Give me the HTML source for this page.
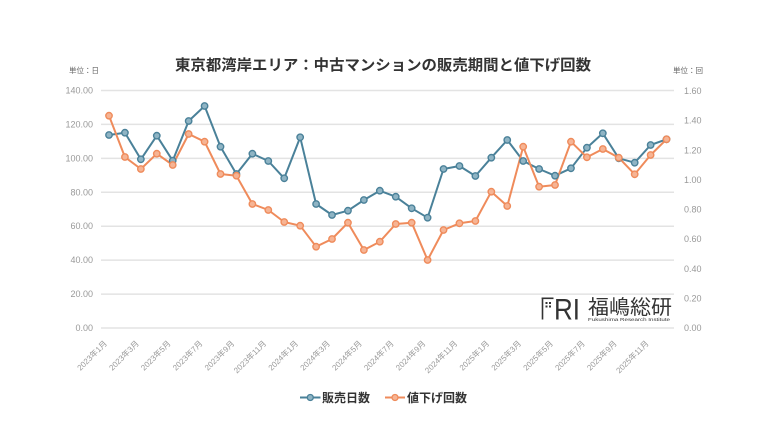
<!DOCTYPE html>
<html><head><meta charset="utf-8"><style>
html,body{margin:0;padding:0;background:#fff;}
svg{display:block;}
text{font-family:"Liberation Sans","Noto Sans CJK JP",sans-serif;}
</style></head><body>
<svg width="780" height="438" viewBox="0 0 780 438" xmlns="http://www.w3.org/2000/svg">
<rect width="780" height="438" fill="#fff"/>
<text x="383" y="70" text-anchor="middle" font-size="15" font-weight="bold" fill="#333" textLength="416" lengthAdjust="spacingAndGlyphs">東京都湾岸エリア：中古マンションの販売期間と値下げ回数</text>
<text x="69" y="73" font-size="7.5" fill="#666">単位：日</text>
<text x="673" y="73" font-size="7.5" fill="#666">単位：回</text>
<g stroke="#e3e3e3" stroke-width="1.5">
<line x1="101" x2="674" y1="328" y2="328"/>
<line x1="101" x2="674" y1="294.1" y2="294.1"/>
<line x1="101" x2="674" y1="260.1" y2="260.1"/>
<line x1="101" x2="674" y1="226.2" y2="226.2"/>
<line x1="101" x2="674" y1="192.3" y2="192.3"/>
<line x1="101" x2="674" y1="158.4" y2="158.4"/>
<line x1="101" x2="674" y1="124.4" y2="124.4"/>
<line x1="101" x2="674" y1="90.5" y2="90.5"/>
</g>
<g font-size="9" fill="#999" text-anchor="end">
<text x="93" y="331">0.00</text>
<text x="93" y="297.1">20.00</text>
<text x="93" y="263.1">40.00</text>
<text x="93" y="229.2">60.00</text>
<text x="93" y="195.3">80.00</text>
<text x="93" y="161.4">100.00</text>
<text x="93" y="127.4">120.00</text>
<text x="93" y="93.5">140.00</text>
</g>
<g font-size="9" fill="#999">
<text x="684" y="331">0.00</text>
<text x="684" y="301.4">0.20</text>
<text x="684" y="271.8">0.40</text>
<text x="684" y="242.1">0.60</text>
<text x="684" y="212.5">0.80</text>
<text x="684" y="182.9">1.00</text>
<text x="684" y="153.3">1.20</text>
<text x="684" y="123.6">1.40</text>
<text x="684" y="94">1.60</text>
</g>
<g font-size="8" fill="#999" text-anchor="end" id="xl"></g>
<!-- logo -->
<g>
<line x1="542.5" y1="297.5" x2="542.5" y2="319.5" stroke="#333" stroke-width="1.6"/>
<line x1="541.7" y1="298.3" x2="553.5" y2="298.3" stroke="#333" stroke-width="1.6"/>
<rect x="545.5" y="302" width="2" height="2" fill="#333"/>
<rect x="549" y="302" width="2" height="2" fill="#333"/>
<rect x="545.5" y="305.5" width="2" height="2" fill="#333"/>
<rect x="549" y="305.5" width="2" height="2" fill="#333"/>
<text x="554" y="319.5" font-size="30" fill="#333" textLength="26" lengthAdjust="spacingAndGlyphs">RI</text>
<text x="588" y="314" font-size="20" fill="#333" textLength="84" lengthAdjust="spacingAndGlyphs">福嶋総研</text>
<text x="588" y="321" font-size="4.5" fill="#333" textLength="82" lengthAdjust="spacingAndGlyphs">Fukushima Research Institute</text>
</g>
<polyline id="bl" fill="none" stroke="#4a8199" stroke-width="2" stroke-linejoin="round"/>
<polyline id="ol" fill="none" stroke="#ef8b5b" stroke-width="2" stroke-linejoin="round"/>
<g id="bm"></g>
<g id="om"></g>
<!-- legend -->
<line x1="300" y1="397.5" x2="320.5" y2="397.5" stroke="#4a8199" stroke-width="2"/>
<circle cx="310.3" cy="397.5" r="3" fill="#8fb4c4" stroke="#4a8199" stroke-width="1.3"/>
<text x="322" y="402" font-size="12" font-weight="bold" fill="#333">販売日数</text>
<line x1="385" y1="397.5" x2="405" y2="397.5" stroke="#ef8b5b" stroke-width="2"/>
<circle cx="395" cy="397.5" r="3" fill="#f6b494" stroke="#ef8b5b" stroke-width="1.3"/>
<text x="407" y="402" font-size="12" font-weight="bold" fill="#333">値下げ回数</text>
</svg>
<script>
(function(){
var NS="http://www.w3.org/2000/svg";
var b=[135,132.7,159.3,135.7,160.7,121,106,146.7,174,153.7,161,178.3,137.3,204,215,210.7,200,190.7,196.7,208.3,217.7,169,166,176,157.7,140,161,169,175.7,168.3,147.7,133.3,158.3,162.7,145,139.3];
var o=[115.7,157,169,153.7,165,134,141.7,174,175.7,204,210,222,225.7,246.7,239,222.7,250,241.7,224,222.7,260,230,223.3,221,191.7,206,146.7,186.7,185,141.7,157.3,149,157.7,174.3,155,139.3];
function X(i){return 109+i*15.93;}
var pb=[],po=[];
var bm=document.getElementById("bm"),om=document.getElementById("om");
for(var i=0;i<36;i++){
pb.push(X(i).toFixed(1)+","+b[i]);po.push(X(i).toFixed(1)+","+o[i]);
}
document.getElementById("bl").setAttribute("points",pb.join(" "));
document.getElementById("ol").setAttribute("points",po.join(" "));
function c(g,x,y,f,s){var e=document.createElementNS(NS,"circle");e.setAttribute("cx",x);e.setAttribute("cy",y);e.setAttribute("r","3.2");e.setAttribute("fill",f);e.setAttribute("stroke",s);e.setAttribute("stroke-width","1.4");g.appendChild(e);}
for(var i=0;i<36;i++){c(bm,X(i),b[i],"#8fb4c4","#4a8199");}
for(var i=0;i<36;i++){c(om,X(i),o[i],"#f6b494","#ef8b5b");}
var xl=document.getElementById("xl");
var labs=["2023年1月","2023年3月","2023年5月","2023年7月","2023年9月","2023年11月","2024年1月","2024年3月","2024年5月","2024年7月","2024年9月","2024年11月","2025年1月","2025年3月","2025年5月","2025年7月","2025年9月","2025年11月"];
for(var k=0;k<18;k++){
var x=X(2*k)-1.5,y=344;
var t=document.createElementNS(NS,"text");
t.setAttribute("x",x);t.setAttribute("y",y);
t.setAttribute("transform","rotate(-45 "+x+" "+y+")");
t.textContent=labs[k];xl.appendChild(t);
}
})();
</script>
</body></html>
